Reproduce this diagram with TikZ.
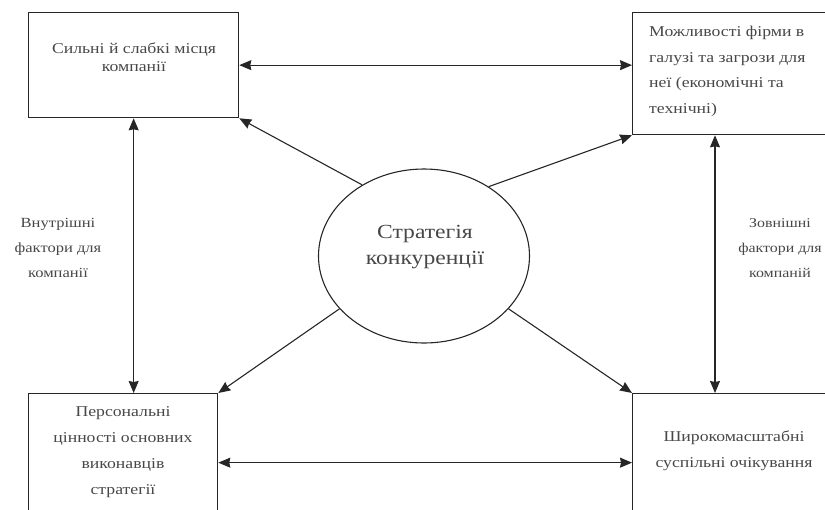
\documentclass[tikz,border=0pt]{standalone}
\usepackage{fontspec}
\setmainfont{Liberation Serif}
\newfontfamily\widefont[FakeStretch=1.18]{Liberation Serif}
\usetikzlibrary{shapes.geometric,arrows.meta}
\definecolor{ink}{gray}{0.15}
\definecolor{txt}{gray}{0.28}
\begin{document}
\begin{tikzpicture}[x=1pt,y=-1pt,
  box/.style={draw=ink,line width=1.3pt,inner sep=0pt},
  lbl/.style={text=txt,font=\widefont\fontsize{15}{25.5}\selectfont,align=center,inner sep=0pt},
  link/.style={draw=ink,line width=1.1pt,{Stealth[length=12pt,width=10pt,inset=1pt]}-{Stealth[length=12pt,width=10pt,inset=1pt]}},
  spoke/.style={draw=ink,line width=1.1pt,-{Stealth[length=12pt,width=10pt,inset=1pt]}}]
\useasboundingbox (0,0) rectangle (825,509);
\clip (0,0) rectangle (825,509);

% four boxes
\node[box,anchor=north west,minimum width=210pt,minimum height=105pt] (tl) at (28,12) {};
\node[box,anchor=north west,minimum width=260pt,minimum height=122pt] (tr) at (632,12) {};
\node[box,anchor=north west,minimum width=189pt,minimum height=138pt] (bl) at (28,393) {};
\node[box,anchor=north west,minimum width=260pt,minimum height=138pt] (br) at (632,393) {};

% central ellipse
\node[ellipse,draw=ink,line width=1.1pt,minimum width=211pt,minimum height=174pt,inner sep=0pt] (c) at (424,256) {};
\node[text=txt,font=\widefont\fontsize{20}{26}\selectfont,align=center,inner sep=0pt] (ct) at (425,247)
  {Стратегія\\конкуренції};

% box texts
\node[lbl,font=\widefont\fontsize{15}{18.5}\selectfont] (tlt) at (134,57) {Сильні й слабкі місця\\компанії};
\node[lbl,align=left,anchor=west] (trt) at (649,71.5)
  {Можливості фірми в\\галузі та загрози для\\неї (економічні та\\технічні)};
\node[lbl,font=\widefont\fontsize{15}{26}\selectfont] (blt) at (123,452)
  {Персональні\\цінності основних\\виконавців\\стратегії};
\node[lbl,font=\widefont\fontsize{15}{26}\selectfont] (brt) at (734,451)
  {Широкомасштабні\\суспільні очікування};

% side captions
\node[lbl,font=\widefont\fontsize{14}{25}\selectfont] (inl) at (58,248) {Внутрішні\\фактори для\\компанії};
\node[lbl,font=\widefont\fontsize{13.5}{25}\selectfont] (exl) at (780,248) {Зовнішні\\фактори для\\компаній};

% connectors between boxes
\coordinate (rv) at (715,0);
\draw[link] (tl.east) -- (tl.east -| tr.west);
\draw[link] (bl.east) -- (br.west);
\draw[link] (tl.south) -- (tl.south |- bl.north);
\draw[link] (rv |- tr.south) -- (rv |- br.north);

% from the ellipse to the box corners
\draw[spoke] (c.131) -- (tl.south east);
\draw[spoke] (c.47.6) -- (tr.south west);
\draw[spoke] (c.212.9) -- (bl.north east);
\draw[spoke] (c.328.7) -- (br.north west);
\end{tikzpicture}
\end{document}
